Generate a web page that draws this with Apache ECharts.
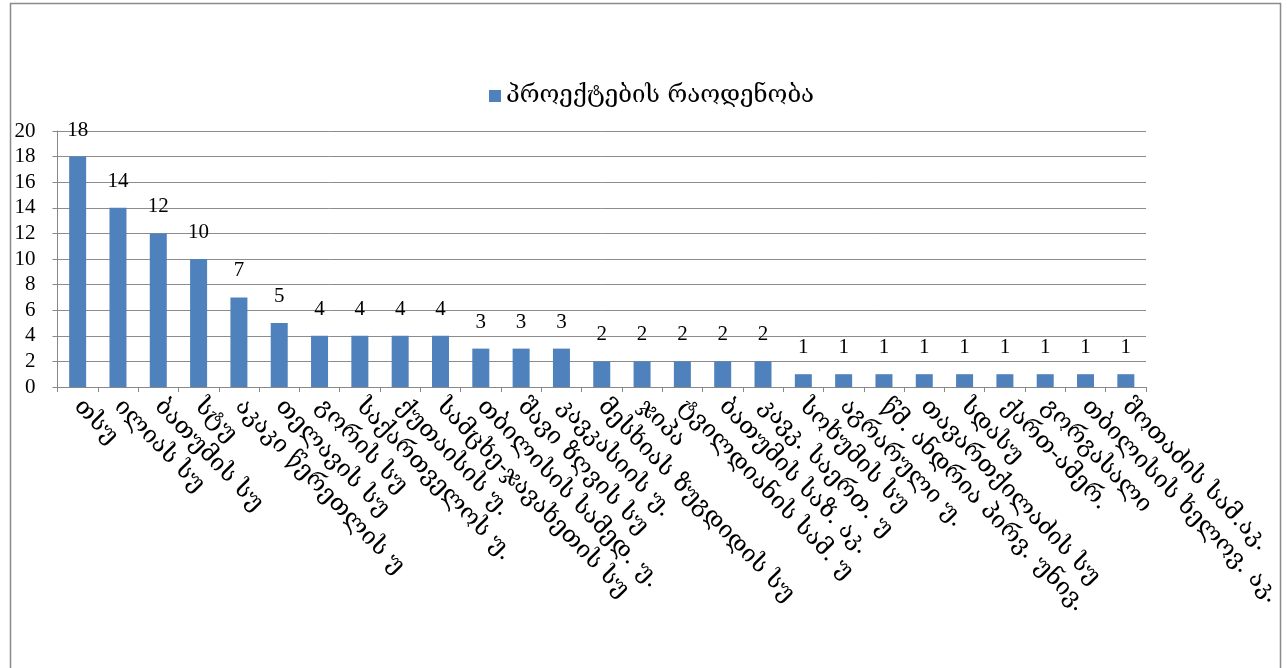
<!DOCTYPE html>
<html>
<head>
<meta charset="utf-8">
<script src="https://cdn.jsdelivr.net/npm/echarts@6/dist/echarts.min.js"></script>
<style>
html,body{margin:0;padding:0;background:#fff;}
#chart{width:1287px;height:668px;}
</style>
</head>
<body>
<div id="chart"></div>
<script>
const seriesName = 'პროექტების რაოდენობა';
const categories = [
  'თსუ', 'ილიას სუ', 'ბათუმის სუ', 'სტუ', 'აკაკი წერეთლის უ',
  'თელავის სუ', 'გორის სუ', 'საქართველოს უ.', 'ქუთაისის უ.',
  'სამცხე-ჯავახეთის სუ', 'თბილისის სამედ. უ.', 'შავი ზღვის სუ',
  'კავკასიის უ.', 'მესხიას ზუგდიდის სუ', 'ჯიპა', 'ტვილდიანის სამ. უ',
  'ბათუმის საზ. აკ.', 'კავკ. საერთ. უ', 'სოხუმის სუ', 'აგრარული უ.',
  'წმ. ანდრია პირვ. უნივ.', 'თავართქილაძის სუ', 'სდასუ', 'ქართ-ამერ.',
  'გორგასალი', 'თბილისის ხელოვ. აკ.', 'შოთაძის სამ.აკ.'
];
const values = [18, 14, 12, 10, 7, 5, 4, 4, 4, 4, 3, 3, 3, 2, 2, 2, 2, 2, 1, 1, 1, 1, 1, 1, 1, 1, 1];
const yMin = 0, yMax = 20, yStep = 2;

const geoFont = "'DejaVu Serif', 'DejaVu Sans', serif";
const numFont = "'Liberation Serif', 'DejaVu Serif', serif";

const chart = echarts.init(document.getElementById('chart'), null, {renderer: 'canvas'});
chart.setOption({
  animation: false,
  backgroundColor: '#ffffff',
  graphic: [
    {type: 'rect', left: 8, top: 1, shape: {x: 0, y: 0, width: 1270, height: 700},
     style: {fill: 'none', stroke: '#8a8a8a', lineWidth: 1.5}, silent: true, z: 100}
  ],
  legend: {
    left: 484, top: 79,
    itemWidth: 12, itemHeight: 12, itemGap: 10,
    icon: 'rect',
    textStyle: {fontFamily: geoFont, fontSize: 24, color: '#000'},
    data: [seriesName]
  },
  grid: {left: 57.5, right: 141, top: 131, bottom: 281, containLabel: false},
  xAxis: {
    type: 'category',
    data: categories,
    boundaryGap: true,
    axisLine: {show: true, lineStyle: {color: '#888', width: 1}},
    axisTick: {show: true, length: 5, alignWithLabel: false, lineStyle: {color: '#888'}},
    axisLabel: {
      interval: 0, rotate: -46, margin: 16,
      fontFamily: geoFont, fontSize: 24, color: '#000'
    },
    splitLine: {show: false}
  },
  yAxis: {
    type: 'value',
    min: yMin, max: yMax, interval: yStep,
    axisLine: {show: true, lineStyle: {color: '#888', width: 1}},
    axisTick: {show: true, length: 5, lineStyle: {color: '#888'}},
    axisLabel: {margin: 22, fontFamily: numFont, fontSize: 21, color: '#000'},
    splitLine: {show: true, lineStyle: {color: '#8c8c8c', width: 1}}
  },
  series: [{
    name: seriesName,
    type: 'bar',
    data: values,
    barWidth: 17,
    itemStyle: {color: '#4f81bd'},
    label: {
      show: true, position: 'top', distance: 16,
      fontFamily: numFont, fontSize: 21, color: '#000'
    }
  }]
});
</script>
</body>
</html>
